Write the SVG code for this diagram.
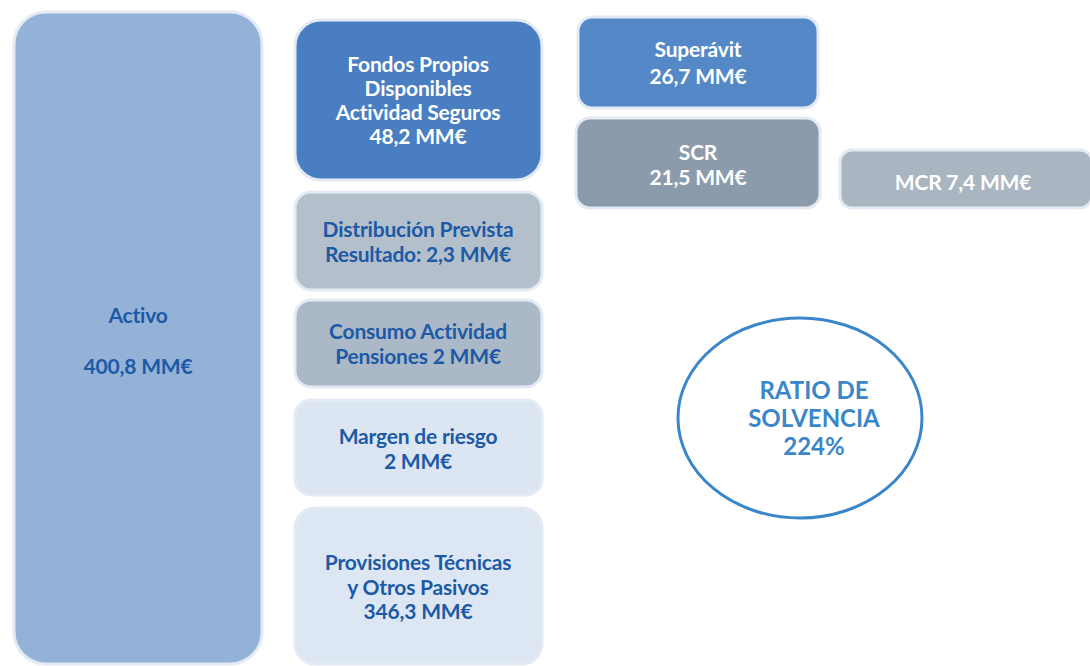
<svg xmlns="http://www.w3.org/2000/svg" width="1090" height="666" viewBox="0 0 1090 666">
<style>
.box{stroke:#e3eaf4;stroke-width:3}
.t{font-family:Lato,"Liberation Sans",sans-serif;font-weight:bold;font-size:21px;text-anchor:middle;letter-spacing:-0.2px}
.w{fill:#ffffff}
.d{fill:#1c5aa6}
.r{font-family:Lato,"Liberation Sans",sans-serif;font-weight:bold;font-size:24px;text-anchor:middle;fill:#3b86c9}
</style>
<rect width="1090" height="666" fill="#ffffff"/>
<g id="activo">
<rect class="box" x="14" y="12" width="248" height="652" rx="32" fill="#94b2d8"/>
<text class="t d" x="138" y="323">Activo</text>
<text class="t d" x="138" y="374">400,8 MM€</text>
</g>
<g id="fondos">
<rect class="box" x="295" y="20" width="247" height="160" rx="26" fill="#4a7ec2"/>
<text class="t w" x="418" y="72">Fondos Propios</text>
<text class="t w" x="418" y="96">Disponibles</text>
<text class="t w" x="418" y="120">Actividad Seguros</text>
<text class="t w" x="418" y="144">48,2 MM€</text>
</g>
<g id="distribucion">
<rect class="box" x="295" y="192" width="247" height="98" rx="16" fill="#b4bfcc"/>
<text class="t d" x="418" y="237">Distribución Prevista</text>
<text class="t d" x="418" y="262">Resultado: 2,3 MM€</text>
</g>
<g id="consumo">
<rect class="box" x="295" y="300" width="247" height="87" rx="16" fill="#aab8c8"/>
<text class="t d" x="418" y="339">Consumo Actividad</text>
<text class="t d" x="418" y="364">Pensiones 2 MM€</text>
</g>
<g id="margen">
<rect class="box" x="295" y="400" width="247" height="95" rx="16" fill="#dce6f2"/>
<text class="t d" x="418" y="444">Margen de riesgo</text>
<text class="t d" x="418" y="469">2 MM€</text>
</g>
<g id="provisiones">
<rect class="box" x="295" y="508" width="247" height="156" rx="20" fill="#dde7f3"/>
<text class="t d" x="418" y="570">Provisiones Técnicas</text>
<text class="t d" x="418" y="595">y Otros Pasivos</text>
<text class="t d" x="418" y="619">346,3 MM€</text>
</g>
<g id="superavit">
<rect class="box" x="578" y="17" width="240" height="91" rx="14" fill="#5488c6"/>
<text class="t w" x="698" y="57">Superávit</text>
<text class="t w" x="698" y="84">26,7 MM€</text>
</g>
<g id="scr">
<rect class="box" x="576" y="118" width="244" height="90" rx="14" fill="#8b9bac"/>
<text class="t w" x="698" y="160">SCR</text>
<text class="t w" x="698" y="185">21,5 MM€</text>
</g>
<g id="mcr">
<rect class="box" x="840" y="150" width="252" height="58" rx="12" fill="#aab5c2"/>
<text class="t w" x="963" y="190">MCR 7,4 MM€</text>
</g>
<g id="ratio">
<ellipse cx="800" cy="418" rx="122" ry="100" fill="#ffffff" stroke="#3b86c9" stroke-width="3"/>
<text class="r" x="814" y="399">RATIO DE</text>
<text class="r" x="814" y="427">SOLVENCIA</text>
<text class="r" x="814" y="455">224%</text>
</g>
<g id="connectors"/>
</svg>
